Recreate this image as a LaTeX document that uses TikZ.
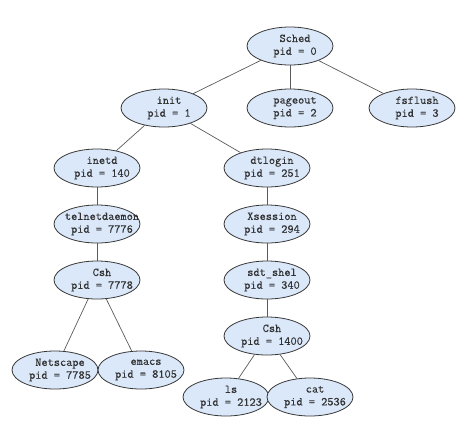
\documentclass[tikz,border=0pt]{standalone}
\usepackage{fontspec}
\newfontfamily\procfont{Latin Modern Mono}[FakeBold=0.3]
\usetikzlibrary{shapes.geometric}
\definecolor{procfill}{RGB}{218,232,250}
\definecolor{procline}{RGB}{55,55,55}
\definecolor{edgeline}{RGB}{90,90,90}
\definecolor{proctext}{RGB}{50,50,50}
\begin{document}
\begin{tikzpicture}[x=1pt,y=-1pt,
  proc/.style={ellipse,draw=procline,line width=0.8pt,fill=procfill,
    minimum width=86pt,minimum height=38pt,inner sep=0pt},
  proctxt/.style={align=center,text=proctext,inner sep=0pt,xshift=5pt,
    font=\procfont\fontsize{12}{12.8}\selectfont},
  link/.style={draw=edgeline,line width=0.7pt}]
\useasboundingbox (0,0) rectangle (471,437);
\node[proc] (sched) at (290,46) {};
\node[proc] (init) at (164,108) {};
\node[proc] (pageout) at (290,108) {};
\node[proc] (fsflush) at (412,108) {};
\node[proc] (inetd) at (97,168) {};
\node[proc] (dtlogin) at (267,168) {};
\node[proc] (telnet) at (97,224) {};
\node[proc] (xsession) at (267,224) {};
\node[proc] (cshl) at (97,280) {};
\node[proc] (sdt) at (267,280) {};
\node[proc] (cshr) at (267,336) {};
\node[proc] (netscape) at (55,370) {};
\node[proc] (emacs) at (141,370) {};
\node[proc] (ls) at (226,397) {};
\node[proc] (cat) at (310,397) {};
\node[proctxt] (tsched) at (sched) {Sched\\pid = 0};
\node[proctxt] (tinit) at (init) {init\\pid = 1};
\node[proctxt] (tpageout) at (pageout) {pageout\\pid = 2};
\node[proctxt] (tfsflush) at (fsflush) {fsflush\\pid = 3};
\node[proctxt] (tinetd) at (inetd) {inetd\\pid = 140};
\node[proctxt] (tdtlogin) at (dtlogin) {dtlogin\\pid = 251};
\node[proctxt] (ttelnet) at (telnet) {telnetdaemon\\pid = 7776};
\node[proctxt] (txsession) at (xsession) {Xsession\\pid = 294};
\node[proctxt] (tcshl) at (cshl) {Csh\\pid = 7778};
\node[proctxt] (tsdt) at (sdt) {sdt\_shel\\pid = 340};
\node[proctxt] (tcshr) at (cshr) {Csh\\pid = 1400};
\node[proctxt] (tnetscape) at (netscape) {Netscape\\pid = 7785};
\node[proctxt] (temacs) at (emacs) {emacs\\pid = 8105};
\node[proctxt] (tls) at (ls) {ls\\pid = 2123};
\node[proctxt] (tcat) at (cat) {cat\\pid = 2536};
\draw[link] (sched) -- (init);
\draw[link] (sched) -- (pageout);
\draw[link] (sched) -- (fsflush);
\draw[link] (init) -- (inetd);
\draw[link] (init) -- (dtlogin);
\draw[link] (inetd) -- (telnet);
\draw[link] (telnet) -- (cshl);
\draw[link] (cshl) -- (netscape);
\draw[link] (cshl) -- (emacs);
\draw[link] (dtlogin) -- (xsession);
\draw[link] (xsession) -- (sdt);
\draw[link] (sdt) -- (cshr);
\draw[link] (cshr) -- (ls);
\draw[link] (cshr) -- (cat);
\end{tikzpicture}
\end{document}
